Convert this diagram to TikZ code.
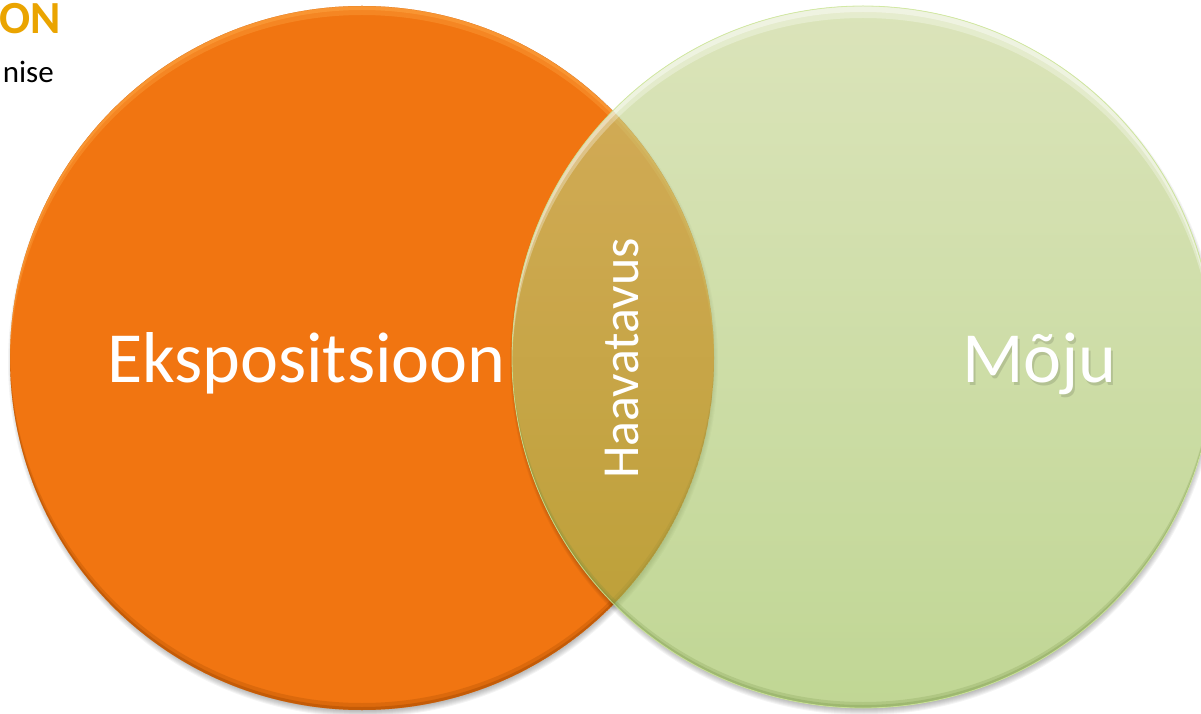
\documentclass[tikz,border=0pt]{standalone}
\usepackage{fontspec}
\setmainfont{Carlito}
\definecolor{expoorange}{RGB}{241,117,17}
\definecolor{expolight}{RGB}{255,168,70}
\definecolor{expodark}{RGB}{160,70,0}
\definecolor{mojutop}{RGB}{195,210,140}
\definecolor{mojubottom}{RGB}{150,187,77}
\definecolor{mojuedge}{RGB}{205,232,150}
\definecolor{mojudark}{RGB}{110,140,60}
\definecolor{headgold}{RGB}{234,164,0}
\tikzset{
  bigtext/.style={font=\fontsize{72}{80}\selectfont, text=white, inner sep=0pt},
  midtext/.style={font=\fontsize{52}{60}\selectfont, text=white, inner sep=0pt},
  crescent/.style={even odd rule},
}
\begin{document}
\begin{tikzpicture}[x=1pt,y=1pt]
\useasboundingbox (0,0) rectangle (1201,713);

% soft drop shadow under the exposure circle
\foreach \k in {0,...,6}
  \fill[black, opacity=0.045] (363,351) circle ({355-\k});

% exposure circle
\fill[expoorange] (362,355) circle (352);
\begin{scope}
  \clip (362,355) circle (352);
  % upper bevel highlight
  \fill[crescent, expolight, opacity=0.35] (362,355) circle (352) (362,346) circle (352);
  \fill[crescent, expolight, opacity=0.45] (362,355) circle (352) (362,351) circle (352);
  % lower bevel shade
  \fill[crescent, expodark, opacity=0.25] (362,355) circle (352) (362,362) circle (352);
  \fill[crescent, expodark, opacity=0.4] (362,355) circle (352) (362,358) circle (352);
\end{scope}

% soft drop shadow under the impact circle, kept outside it
\begin{scope}[even odd rule]
  \clip (-10,-10) rectangle (1220,730) (863,356) circle (351);
  \foreach \k in {0,...,6}
    \fill[black, opacity=0.045] (864,352) circle ({354-\k});
\end{scope}

% impact circle, translucent over the exposure circle
\shade[top color=mojutop, bottom color=mojubottom, fill opacity=0.6] (863,356) circle (351);
\begin{scope}
  \clip (863,356) circle (351);
  % glassy band along the top
  \fill[crescent, white, opacity=0.3] (863,356) circle (351) (863,344) circle (351);
  \fill[crescent, white, opacity=0.4] (863,356) circle (351) (863,350) circle (351);
  % darker rim along the bottom
  \fill[crescent, mojudark, opacity=0.2] (863,356) circle (351) (863,362) circle (351);
  \fill[crescent, mojudark, opacity=0.25] (863,356) circle (351) (863,359) circle (351);
\end{scope}
\draw[mojuedge, line width=0.8pt, opacity=0.8] (863,356) circle (351);

% heading fragments
\node[anchor=base east, inner sep=0pt, text=headgold,
      font=\bfseries\fontsize{46}{50}\selectfont] (head) at (61,679) {ON};
\node[anchor=base east, inner sep=0pt, text=black,
      font=\fontsize{31}{36}\selectfont] (sub) at (54,630) {nise};

% circle labels; the impact label carries a faint shadow
\node[bigtext, text=black, text opacity=0.12, anchor=base west] (mojushade) at (964,328) {Mõju};
\node[bigtext, anchor=base west] (expo) at (107,331) {Ekspositsioon};
\node[bigtext, anchor=base west] (moju) at (962,331) {Mõju};
\node[midtext, anchor=base west, rotate=90] (haav) at (638,234) {Haavatavus};
\end{tikzpicture}
\end{document}
